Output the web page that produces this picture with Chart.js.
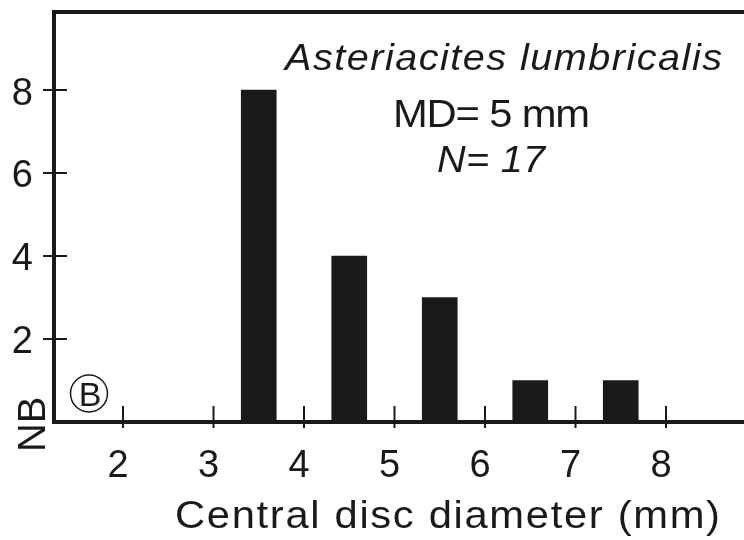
<!DOCTYPE html>
<html lang="en">
<head>
    <meta charset="UTF-8">
    <title>Asteriacites lumbricalis - central disc diameter</title>
    <script src="https://cdn.jsdelivr.net/npm/chart.js"></script>
    <style>
        html, body {
            margin: 0;
            padding: 0;
            background: #fff;
        }
        .chart-box {
            width: 744px;
            height: 540px;
        }
    </style>
</head>
<body>
    <div class="chart-box">
        <canvas id="discChart"></canvas>
    </div>

    <script>
        // histogram data: class centres (mm) and counts
        const binCentres = [3.5, 4.5, 5.5, 6.5, 7.5];
        const binCounts = [8, 4, 3, 1, 1];

        // tick labels
        const xTickValues = [2, 3, 4, 5, 6, 7, 8];
        const yTickValues = [2, 4, 6, 8];

        // texts
        const xTitle = 'Central disc diameter (mm)';
        const yTitle = 'NB';
        const speciesName = 'Asteriacites lumbricalis';
        const mdText = 'MD= 5 mm';
        const nText = 'N= 17';
        const panelLetter = 'B';

        const ink = '#1a1a1a';
        const fontFamily = "'Liberation Sans', Arial, sans-serif";

        // write text so that it spans a given width (the original font is a bit wider, with wide tracking)
        function spacedText(ctx, text, x, y, width) {
            const sx = 1.07;
            ctx.save();
            ctx.translate(x, y);
            ctx.scale(sx, 1);
            ctx.letterSpacing = '0px';
            const plain = ctx.measureText(text).width;
            const gap = (width / sx - plain) / (text.length - 1);
            ctx.letterSpacing = gap + 'px';
            ctx.textAlign = 'left';
            ctx.fillText(text, 0, 0);
            ctx.restore();
        }

        const frameAndLabels = {
            id: 'frameAndLabels',
            afterDraw(chart) {
                const ctx = chart.ctx;
                const area = chart.chartArea;
                const xs = chart.scales.x;
                const ys = chart.scales.y;
                ctx.save();
                ctx.strokeStyle = ink;
                ctx.fillStyle = ink;

                // top frame line
                ctx.lineWidth = 4;
                ctx.beginPath();
                ctx.moveTo(area.left - 2, area.top);
                ctx.lineTo(chart.width, area.top);
                ctx.stroke();

                // y ticks crossing the axis
                ctx.lineWidth = 2;
                yTickValues.forEach(v => {
                    const py = ys.getPixelForValue(v);
                    ctx.beginPath();
                    ctx.moveTo(area.left - 11, py);
                    ctx.lineTo(area.left + 13, py);
                    ctx.stroke();
                });

                // x ticks pointing up into the plot
                xTickValues.forEach(v => {
                    const px = xs.getPixelForValue(v);
                    ctx.beginPath();
                    ctx.moveTo(px, area.bottom - 16);
                    ctx.lineTo(px, area.bottom + 6);
                    ctx.stroke();
                });

                ctx.textBaseline = 'alphabetic';

                // annotation block
                ctx.font = 'italic 37px ' + fontFamily;
                spacedText(ctx, speciesName, 285, 70, 437);
                ctx.font = '39px ' + fontFamily;
                spacedText(ctx, mdText, 393, 127, 197);
                ctx.font = 'italic 37px ' + fontFamily;
                spacedText(ctx, nText, 437, 172, 108);

                // x axis title
                ctx.font = '39px ' + fontFamily;
                spacedText(ctx, xTitle, 175, 528, 545);

                // y axis title, rotated, sitting low on the axis
                ctx.save();
                ctx.translate(45, 452);
                ctx.rotate(-Math.PI / 2);
                ctx.scale(1.05, 1);
                ctx.font = '38px ' + fontFamily;
                ctx.textAlign = 'left';
                ctx.fillText(yTitle, 0, 0);
                ctx.restore();

                // circled panel letter
                ctx.lineWidth = 1.5;
                ctx.beginPath();
                ctx.arc(89, 393.5, 18.5, 0, Math.PI * 2);
                ctx.stroke();
                ctx.font = '34px ' + fontFamily;
                ctx.textAlign = 'center';
                ctx.textBaseline = 'alphabetic';
                ctx.fillText(panelLetter, 90, 406);

                ctx.restore();
            }
        };

        const ctx = document.getElementById('discChart').getContext('2d');
        const discChart = new Chart(ctx, {
            type: 'bar',
            data: {
                datasets: [{
                    label: 'NB',
                    data: binCentres.map((c, i) => ({ x: c, y: binCounts[i] })),
                    backgroundColor: ink,
                    borderWidth: 0,
                    barThickness: 35
                }]
            },
            options: {
                responsive: true,
                maintainAspectRatio: false,
                animation: false,
                layout: {
                    padding: { top: 12, left: 0, right: 0, bottom: 0 }
                },
                plugins: {
                    legend: { display: false },
                    tooltip: { enabled: false }
                },
                scales: {
                    x: {
                        type: 'linear',
                        min: 1.2376,
                        max: 8.862,
                        offset: false,
                        grid: { display: false, drawTicks: false },
                        border: { display: true, width: 4, color: ink },
                        afterBuildTicks: scale => {
                            scale.ticks = xTickValues.map(v => ({ value: v }));
                        },
                        afterFit: scale => {
                            scale.height = 118;
                            scale.paddingLeft = 0;
                            scale.paddingRight = 0;
                        },
                        ticks: {
                            color: ink,
                            padding: 22,
                            labelOffset: -5,
                            maxRotation: 0,
                            autoSkip: false,
                            font: { family: fontFamily, size: 38 }
                        }
                    },
                    y: {
                        min: 0,
                        max: 9.88,
                        grid: { display: false, drawTicks: false },
                        border: { display: true, width: 4, color: ink },
                        afterBuildTicks: scale => {
                            scale.ticks = yTickValues.map(v => ({ value: v }));
                        },
                        afterFit: scale => {
                            scale.width = 54;
                            scale.paddingTop = 0;
                            scale.paddingBottom = 0;
                        },
                        ticks: {
                            color: ink,
                            padding: 21,
                            labelOffset: 4,
                            autoSkip: false,
                            font: { family: fontFamily, size: 38 }
                        }
                    }
                }
            },
            plugins: [frameAndLabels]
        });
    </script>
</body>
</html>
